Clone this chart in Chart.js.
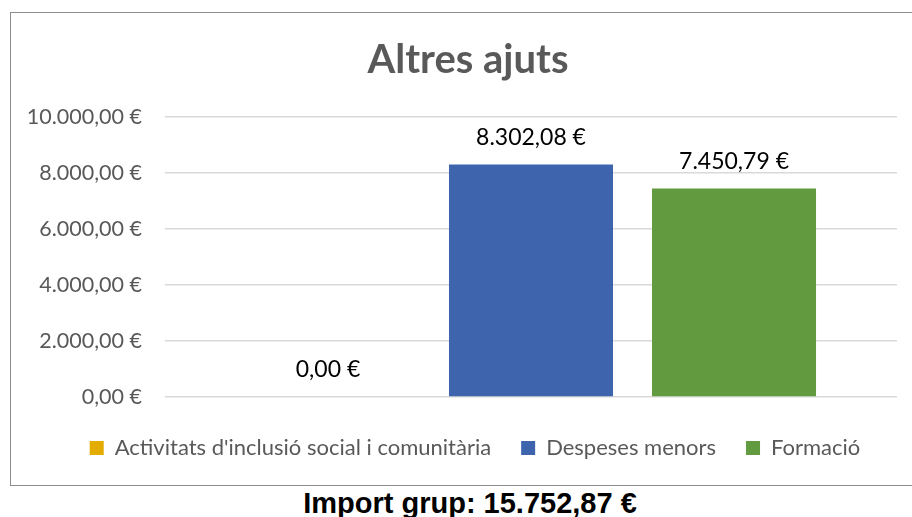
<!DOCTYPE html>
<html>
<head>
<meta charset="utf-8">
<script src="https://cdn.jsdelivr.net/npm/chart.js@4.4.1/dist/chart.umd.min.js"></script>
<style>
  body { margin: 0; background: #fff; overflow: hidden; font-family: Lato, sans-serif; }
  #box { position: absolute; left: 10px; top: 12px; width: 912px; height: 472px; border: 1px solid #8c8c8c; }
  #total { position: absolute; left: 0; width: 940px; top: 486px; line-height: 34px; text-align: center;
           font-family: "Liberation Sans", Arial, sans-serif; font-weight: bold; font-size: 29px; color: #000; }
</style>
</head>
<body>
<div id="box"><canvas id="chart" width="912" height="472"></canvas></div>
<div id="total"></div>
<script>
// DATA
const categories = ["Altres ajuts"];
const seriesNames = ["Activitats d'inclusió social i comunitària", "Despeses menors", "Formació"];
const seriesColors = ["#E3AC00", "#3D64AD", "#619A3F"];
const activitats = [0];
const despeses = [8302.08];
const formacio = [7450.79];
const yTicks = [0, 2000, 4000, 6000, 8000, 10000];

// format 8302.08 -> "8.302,08 €"
function euro(v) {
  const parts = v.toFixed(2).split(".");
  const int = parts[0].replace(/\B(?=(\d{3})+(?!\d))/g, ".");
  return int + "," + parts[1] + " €";
}

const total = [...activitats, ...despeses, ...formacio].reduce((a, b) => a + b, 0);
document.getElementById("total").textContent = "Import grup: " + euro(total);

// value labels above bars
const barLabels = {
  id: "barLabels",
  afterDatasetsDraw(chart) {
    const ctx = chart.ctx;
    ctx.save();
    ctx.font = "23px Lato";
    ctx.fillStyle = "#000";
    ctx.textAlign = "center";
    ctx.textBaseline = "middle";
    chart.data.datasets.forEach((ds, i) => {
      chart.getDatasetMeta(i).data.forEach((el, j) => {
        ctx.fillText(euro(ds.data[j]), el.x, el.y - 27);
      });
    });
    ctx.restore();
  }
};

// title and legend sit a bit right of the plot centre in the original
const nudge = {
  id: "nudge",
  afterLayout(chart) {
    chart.titleBlock.left += 14; chart.titleBlock.right += 14;
    chart.legend.left += 21; chart.legend.right += 21;
  }
};

const seriesData = [activitats, despeses, formacio];

new Chart(document.getElementById("chart"), {
  type: "bar",
  data: {
    labels: categories,
    datasets: seriesNames.map((name, i) => ({
      label: name,
      data: seriesData[i],
      backgroundColor: seriesColors[i],
      categoryPercentage: 0.832,
      barPercentage: 0.808
    }))
  },
  options: {
    responsive: false,
    animation: false,
    layout: { padding: { left: 0, right: 26, top: 0, bottom: 16 } },
    plugins: {
      title: {
        display: true,
        text: "Altres ajuts",
        color: "#595959",
        font: { family: "Lato", size: 40, weight: "bold" },
        padding: { top: 23, bottom: 33 }
      },
      legend: {
        position: "bottom",
        labels: {
          color: "#595959",
          font: { family: "Lato", size: 22 },
          boxWidth: 14,
          boxHeight: 14,
          padding: 30
        }
      },
      tooltip: { enabled: false }
    },
    scales: {
      x: {
        ticks: { display: false },
        grid: { display: false },
        border: { display: false },
        afterFit: s => { s.height = 10; }
      },
      y: {
        min: 0,
        max: 10000,
        afterBuildTicks: s => { s.ticks = yTicks.map(v => ({ value: v })); },
        afterFit: s => { s.width = 154; },
        ticks: {
          color: "#595959",
          font: { family: "Lato", size: 21.5 },
          padding: 23,
          callback: v => euro(v)
        },
        grid: { color: "#D9D9D9", lineWidth: 1.5, drawTicks: false },
        border: { display: false }
      }
    }
  },
  plugins: [barLabels, nudge]
});
</script>
</body>
</html>
